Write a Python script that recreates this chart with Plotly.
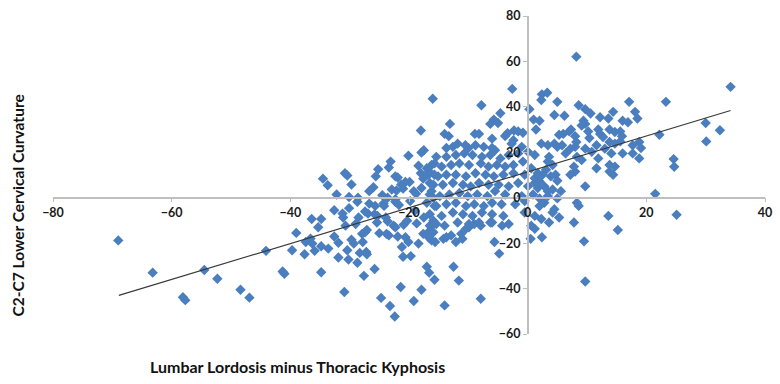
import plotly.graph_objects as go

# ---- data ----
x_outer = [-69, -63.2, -58.1, -57.7, -54.5, -52.3, -48.4, -46.9, -44.1]
y_outer = [-18.8, -33, -43.8, -45.1, -31.8, -35.7, -40.5, -44, -23.4]

x_left = [-41.3, -41, -39.7, -39, -37.6, -37.4, -36.6, -36.3, -36.4, -35.3, -34.8, -35.9, -34.8, -34.8,
          -33.6, -32.6, -32.6, -31.9, -31.9, -31.2, -31.1, -30.7, -30.4, -30.2, -30.1, -30.9, -29.7, -29.3,
          -29.0, -28.7, -28.5, -28.3, -28.7, -27.9, -27.8, -27.6, -27.4, -27.2, -27.1, -27.1, -27.4, -26.9,
          -26.7, -25.8, -25.3, -25.8, -25.7, -25.4, -25, -24.7, -24.2, -23.9, -23.8, -23.4, -23.6, -23.2,
          -22.6, -22.3, -22.4, -22.3, -21.7, -21.9, -21.2, -21.4, -21, -20.9, -20.3, -20.6, -20.1, -19.7,
          -19.2, -19, -18.7, -18.4, -17.9, -17.6, -17.5, -17, -16.6, -16.5, -16.2, -15.9, -15.7, -15.7]
y_left = [-32.5, -33.5, -23.1, -15.5, -24.9, -19.5, -18, -20.2, -9.4, -13, -9.4, -23.4, -21.4, -32.8,
          -22.4, -5.5, -17.1, -19.8, -26.3, -7, -8.7, -12.3, -23.1, -27.2, -4.6, -41.5, -18.5, -20.2,
          -11.6, -28.6, -8.7, -24.3, -1.8, -15.9, -19.5, -34.4, -15.2, -23.9, -24.9, -14.2, -6.1, -7,
          -2.6, -7.3, -8, -31.4, -3.6, -10.9, -15.6, -44.1, -3.6, -8.7, -15.9, -16.6, -10.4, -47.7,
          -12.3, -13, -52.3, -1.8, -3.2, -17.1, -21.7, -39.3, -26, -11.9, -10.1, -17.4, -19.5, -25.7,
          -45.5, -5.8, -11.3, -20.2, -40.5, -15.9, -8.7, -30.4, -33, -14.5, -18.8, -10.1, -3.6, -36.1]

x_upleft = [-16, -18, -17.9, -17.5, -20.1, -23.1, -23.4, -25.2, -25.6, -30.8, -30.4, -29.7, -34.5, -33.7,
            -32.2, -30.1, -28.6, -26.7, -26, -24.5, -23.6, -24.3, -22.9, -22.1, -22.3, -21.9, -22.3,
            -21.3, -20.6, -21, -19.9, -19.8, -19.2, -18.8, -18.4, -18, -17.6, -17.9, -17, -16.6, -16.5,
            -16.2, -15.9, -15.7, -15.7]
y_upleft = [43.6, 29.6, 19.9, 20.9, 18.5, 15.9, 13.3, 12.5, 9.4, 10.8, 9.8, 5.8, 8.4, 5.5,
            1.4, 0.3, 0, 2.9, 4.6, 1.1, 0, -2.6, 3.6, 3.2, 9.4, 8.9, -0.7,
            5.8, 6.9, 4, 6.9, -1.5, 2.9, 1.7, 14.1, 10.8, 8.4, 4.3, 13, 11.5, 6.5,
            2.9, 0, 15.1, 10.1]

x_uppermid = [-2.6, -7.8, -13.1, -14, -13.3, -8.9, -8.2, -6.3, -5.7, -5, -4.6, -6, -3.8, -3.4,
              -2.3, -1.6, -0.8, -2.4, 0.3, 1, 2, 2.3, 2.4, -13.7, -12.6, -10.5, -10, -6, -5.5]
y_uppermid = [47.9, 40.7, 32.5, 28.1, 27.1, 28.1, 28.1, 32.5, 34.4, 32.9, 37.2, 26, 27.2, 28.4,
              29.6, 29.2, 28.6, 25.3, 39, 34.4, 33.9, 43, 45.5, 21.9, 22.4, 23.1, 21.9, 21.9, 20.9]

x_upright = [8.2, 3.3, 5, 8.6, 9.7, 10.6, 17.1, 14.4, 18.1, 18.5, 4.5, 6.2, 9.4, 9.7, 9.1, 12.2, 13.6,
             16, 16.9, 1.4, 5.3, 6, 7, 7.3, 8, 8.2, 10.2, 10.4, 11.9, 12.2, 12.7, 13.8, 14.7, 15.6, 15.9,
             2.3, 3.4, 4.5, 5, 5.8, 7.2, 8, 13.8, 14.7, 15.6, 17.7, 18.8, 19.1]
y_upright = [62.1, 46.2, 42.2, 40.7, 39, 37.1, 42.2, 37.8, 37.8, 34.9, 36.4, 36.1, 33.9, 32.5, 31.8, 35.4, 34.9,
             33.9, 33.2, 30, 27.7, 28.1, 29.2, 30, 27.1, 24.5, 29.2, 26.3, 30, 28.1, 26.7, 30, 28.9, 29.2, 27.1,
             23.8, 23.1, 23.8, 22.4, 23.1, 21.6, 22.4, 24.5, 23.8, 24.8, 23.1, 24.5, 21.9]

x_far = [34.2, 23.3, 30, 32.4, 30.1, 22.2, 24.6, 24.7, 21.5, 25.1]
y_far = [48.8, 42.2, 32.9, 29.7, 24.8, 27.7, 17, 13.6, 1.7, -7.5]

x_right = [6.4, 3.6, 3.4, 4.2, 3.1, 8.3, 9.1, 7.8, 8, 7.2, 9.7, 10.8, 11.6, 13, 14.1, 11.9, 11.6, 13.8,
           14.7, 14.4, 13.8, 16, 17.7, 18.8, 9.7, 1.2, 2, 2.8, 1.7, 2.5, 3.9, 4.7, 5, 4.2, 3.4, 5.6, 2,
           2.8, 3.4, 5, 4.5, 4.2, 5.3, 2.3, 3.6, 8.3, 8.6, 7.8, 13.6, 15.2, 9.5, 9.7]
y_right = [19.5, 18, 15.9, 14.4, 12.3, 18, 16.6, 13.7, 11.5, 10.1, 21.6, 20.2, 23.1, 21.6, 19.5, 17.3, 13, 14.4,
           13.7, 10.1, 11.5, 19.5, 19.5, 17.3, 5, 8.6, 7.2, 5, 4.3, 10.1, 9.4, 10.1, 7.5, 3.6, 2.9, 2.9, -0.3,
           -2.2, 0.7, -0.3, -5.1, -6.5, -8.7, -9.4, -10.9, -2.2, -3.6, -10.9, -8, -14.2, -19.2, -36.9]

x_lowmid = [-16.5, -15.4, -15.9, -16.7, -15.6, -14.2, -13.7, -12.9, -12.1, -11.2, -11, -10.4, -9.9, -9,
            -8.2, -6.3, -4.3, -5.6, -4.8, -12.5, -11.6, -7.9, -14, 1.2, 0.5, 2.4]
y_lowmid = [-12.3, -11.6, -15.2, -17.4, -19.5, -18.1, -17.4, -16.6, -19.5, -15.9, -18.1, -13.7, -13, -11.6,
            -10.9, -10.9, -12.3, -19.5, -24.6, -30.4, -36.5, -44.5, -47.4, -13.7, -18.1, -17.4]

x_core = [-11.8, -8.8, -7.4, -2.7, -1.0,
          -15.4, -13.7, -12.1, -10.7, -9.3, -7.7, -6.3, -4.6, -3.2, -1.6, 0.06, 1.2,
          -16.2, -14.5, -12.9, -11.5, -9.9, -7.9, -6.6, -5.2, -3.8, -2.4, -0.8, 0.6,
          -16.7, -15.1, -13.7, -12.1, -10.4, -8.8, -7.1, -5.7, -4.1, -2.4, -0.5, 1.7,
          -15.9, -14.3, -12.6, -10.9, -9.6, -8.2, -6.6, -4.9, -3.2, -1.6, 0.06, 1.2,
          -16.5, -14.8, -13.2, -11.5, -10.1, -8.5, -6.8, -5.5, -3.8, -1.0, 0.9,
          -17.0, -15.4, -13.7, -12.1, -10.4, -9.0, -7.4, -6.0, -4.4, -2.1, -0.5, 2.0,
          -16.5, -14.5, -12.6, -10.9, -9.3, -7.7, -6.0, -4.1, -0.5, 1.2,
          -15.9, -14.0, -11.8, -9.9, -7.9, -6.0, -3.2, 0.6]
y_core = [23.8, 23.1, 22.4, 23.8, 22.4,
          18.0, 18.0, 18.8, 19.5, 18.8, 18.0, 18.8, 17.3, 18.8, 19.5, 20.2, 18.8,
          14.4, 13.7, 14.4, 15.1, 14.4, 15.1, 13.7, 14.4, 13.7, 14.4, 15.9, 13.0,
          10.1, 9.4, 10.1, 10.1, 9.4, 10.8, 10.1, 9.4, 10.1, 10.8, 10.1, 10.8,
          5.7, 5.7, 6.5, 5.7, 5.0, 6.5, 5.7, 5.7, 5.0, 6.5, 5.0, 6.5,
          1.4, 0.7, 1.4, 2.1, 0.7, 1.4, 0.7, 2.9, 1.4, 0.7, 1.4,
          -2.2, -3.7, -2.9, -2.2, -3.7, -2.9, -3.7, -2.2, -2.9, -2.9, -1.5, -3.7,
          -7.3, -8.0, -6.5, -7.3, -8.0, -6.5, -7.3, -8.0, -6.5, -8.0,
          -11.6, -12.3, -10.9, -11.6, -12.3, -10.9, -11.6, -12.3]

trend_x = [-68.9, 34.2]
trend_y = [-43.0, 38.4]

x_ticks = [-80, -60, -40, -20, 0, 20, 40]
y_ticks = [-60, -40, -20, 0, 20, 40, 60, 80]

x_title = "Lumbar Lordosis minus Thoracic Kyphosis"
y_title = "C2-C7 Lower Cervical Curvature"

xs = x_outer + x_left + x_upleft + x_uppermid + x_upright + x_far + x_right + x_lowmid + x_core
ys = y_outer + y_left + y_upleft + y_uppermid + y_upright + y_far + y_right + y_lowmid + y_core

fig = go.Figure()
fig.add_trace(go.Scatter(
    x=xs, y=ys, mode="markers",
    marker=dict(symbol="diamond", size=8, color="#4A7EBF", line=dict(width=0)),
    showlegend=False, hoverinfo="skip"))
fig.add_trace(go.Scatter(
    x=trend_x, y=trend_y, mode="lines",
    line=dict(color="#3a3a3a", width=1.2),
    showlegend=False, hoverinfo="skip"))

axis_color = "#BFBFBF"
tick_font = dict(family="Lato", size=12.5, color="#1a1a1a", weight="bold")

fig.update_layout(
    width=780, height=384,
    margin=dict(l=53, r=8, t=12, b=50),
    paper_bgcolor="white", plot_bgcolor="white",
    xaxis=dict(range=[-80, 40], tickvals=x_ticks, showgrid=False, zeroline=False,
               showline=True, linecolor=axis_color, linewidth=1.5,
               ticks="outside", ticklen=4, tickcolor=axis_color,
               anchor="free", position=60 / 140, tickfont=tick_font),
    yaxis=dict(range=[-60, 80], tickvals=y_ticks, showgrid=False, zeroline=False,
               showline=True, linecolor=axis_color, linewidth=1.5,
               ticks="outside", ticklen=4, tickcolor=axis_color,
               anchor="free", position=80 / 120, tickfont=tick_font),
    annotations=[
        dict(text=x_title, xref="paper", yref="paper", x=0.3435, y=-0.103,
             showarrow=False, xanchor="center", yanchor="middle",
             font=dict(family="Lato", size=16, color="#111111", weight="bold")),
        dict(text=y_title, xref="paper", yref="paper", x=-0.0487, y=0.405,
             showarrow=False, xanchor="center", yanchor="middle", textangle=-90,
             font=dict(family="Lato", size=15.5, color="#111111", weight="bold")),
    ],
)

fig.write_html("out.html",
               config={"displayModeBar": False},
               post_script=("document.documentElement.style.margin='0';"
                            "document.documentElement.style.overflow='hidden';"
                            "document.body.style.margin='0';"
                            "document.body.style.overflow='hidden';"))
